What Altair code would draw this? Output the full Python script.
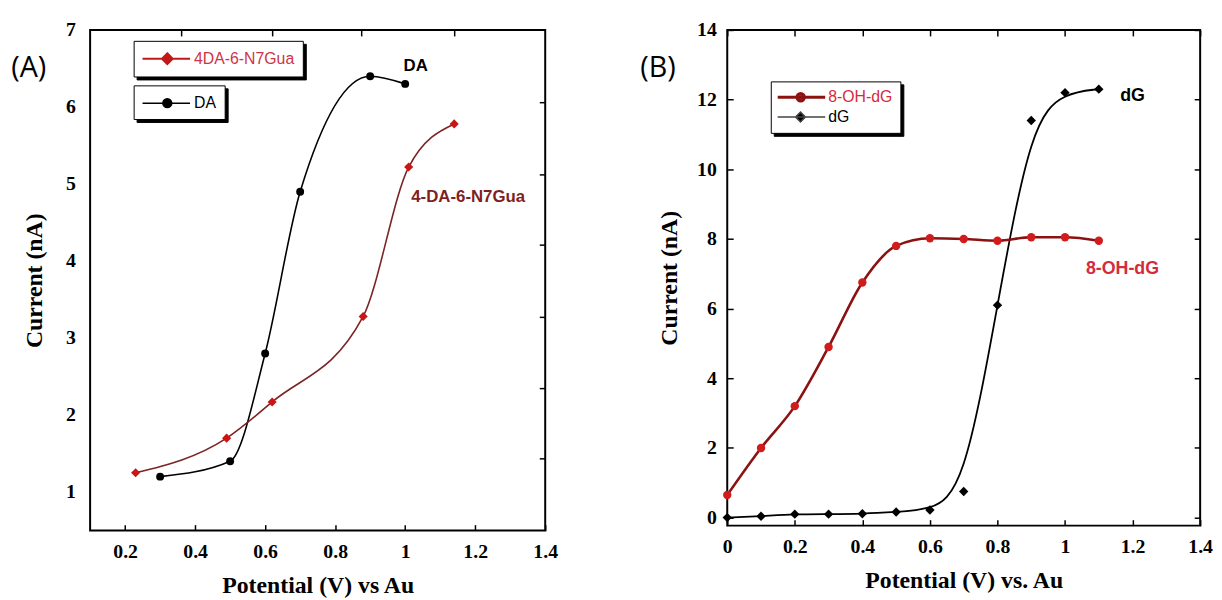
import altair as alt
import pandas as pd

# ---------------- Panel A data ----------------
da_x = [0.30, 0.50, 0.60, 0.70, 0.90, 1.00]
da_y = [1.20, 1.40, 2.80, 4.90, 6.40, 6.30]
gua_x = [0.23, 0.49, 0.62, 0.88, 1.01, 1.14]
gua_y = [1.25, 1.70, 2.17, 3.28, 5.22, 5.78]
a_xticks = [0.2, 0.4, 0.6, 0.8, 1.0, 1.2, 1.4]
a_yticks = [1, 2, 3, 4, 5, 6, 7]
a_top_ticks = [0.36, 0.62, 0.875, 1.14]
a_right_ticks = [1.44, 2.35, 3.28, 4.21, 5.12, 6.06]

# ---------------- Panel B data ----------------
b_x = [0.0, 0.1, 0.2, 0.3, 0.4, 0.5, 0.6, 0.7, 0.8, 0.9, 1.0, 1.1]
oh_y = [0.65, 2.00, 3.20, 4.90, 6.75, 7.80, 8.02, 8.00, 7.95, 8.05, 8.05, 7.95]
dg_y = [0.00, 0.04, 0.10, 0.10, 0.11, 0.16, 0.22, 0.75, 6.10, 11.40, 12.20, 12.30]
b_xticks = [0, 0.2, 0.4, 0.6, 0.8, 1.0, 1.2, 1.4]
b_yticks = [0, 2, 4, 6, 8, 10, 12, 14]

da = pd.DataFrame({"x": da_x, "y": da_y, "s": "DA"})
gua = pd.DataFrame({"x": gua_x, "y": gua_y, "s": "4DA-6-N7Gua"})
oh = pd.DataFrame({"x": b_x, "y": oh_y, "s": "8-OH-dG"})
dg = pd.DataFrame({"x": b_x, "y": dg_y, "s": "dG"})
b_all = pd.concat([oh, dg], ignore_index=True)

SERIF = "Liberation Serif"
SANS = "Liberation Sans"
# legend symbols: a 48px line with a marker (unit = 9px for symbol size 324)
A_DIAMOND = "M-1,0L4.333,0M1.78,-0.6L2.38,0L1.78,0.6L1.18,0Z"
A_CIRCLE = "M2.28,0A0.5,0.5,0,1,1,1.28,0A0.5,0.5,0,1,1,2.28,0Z M-1,0L4.333,0"
B_CIRCLE = "M-1,0L4.333,0M2.0,0A0.42,0.42,0,1,1,1.16,0A0.42,0.42,0,1,1,2.0,0Z"
B_DIAMOND = "M-1,0L4.333,0M1.56,-0.55L2.11,0L1.56,0.55L1.01,0Z"


def main_x(dom, vals, title):
    return alt.X("x:Q", scale=alt.Scale(domain=dom, nice=False, zero=False),
                 axis=alt.Axis(orient="bottom", values=vals, format="~g", ticks=False,
                               domain=False, grid=False, labelFlush=False, labelOverlap=False,
                               labelFont=SERIF, labelFontWeight="bold", labelFontSize=20,
                               labelColor="black", labelPadding=11, title=title,
                               titleFont=SERIF, titleFontSize=24, titleFontWeight="bold",
                               titleColor="black", titleY=56, titleBaseline="middle"))


def main_y(dom, vals, lpad, tx):
    return alt.Y("y:Q", scale=alt.Scale(domain=dom, nice=False, zero=False),
                 axis=alt.Axis(orient="left", values=vals, format="~g", ticks=False,
                               domain=False, grid=False, labelOverlap=False, labelFlush=False,
                               labelFont=SERIF, labelFontWeight="bold", labelFontSize=20,
                               labelColor="black", labelPadding=lpad, title="Current (nA)",
                               titleFont=SERIF, titleFontSize=24, titleFontWeight="bold",
                               titleColor="black", titleX=tx, titleBaseline="middle"))


def tick_axis(orient, vals):
    return alt.Axis(orient=orient, values=vals, labels=False, domain=False, grid=False,
                    ticks=True, tickSize=6, tickWidth=1.5, tickColor="black",
                    offset=-6, title=None)


def nx(dom):
    return alt.X("x:Q", scale=alt.Scale(domain=dom, nice=False, zero=False), axis=None)


def ny(dom):
    return alt.Y("y:Q", scale=alt.Scale(domain=dom, nice=False, zero=False), axis=None)


def legend(lx, ly, label_color, sw, shadow=False, lab_off=33):
    kw = dict(title=None, orient="none", legendX=lx + (3 if shadow else 0),
              legendY=ly + (3 if shadow else 0), padding=8, rowPadding=2, symbolSize=324,
              symbolStrokeWidth=sw, symbolOpacity=1, labelFont=SANS, labelFontSize=16,
              labelOffset=lab_off, labelLimit=300)
    if shadow:
        kw.update(fillColor="black", strokeColor="black", symbolFillColor="black",
                  symbolStrokeColor="black", labelColor="black", labelOpacity=0, zindex=1)
    else:
        kw.update(fillColor="white", strokeColor="black", labelColor=label_color, zindex=2)
    return alt.Legend(**kw)


def legend_layer(df, dom, xd, yd, fills, strokes, shapes, lx, ly, label_color, sw, lab_off):
    main = alt.Chart(df).mark_point(filled=True, opacity=0).encode(
        x=nx(xd), y=ny(yd),
        fill=alt.Fill("s:N", scale=alt.Scale(domain=dom, range=fills),
                      legend=legend(lx, ly, label_color, sw, lab_off=lab_off)),
        stroke=alt.Stroke("s:N", scale=alt.Scale(domain=dom, range=strokes),
                          legend=legend(lx, ly, label_color, sw, lab_off=lab_off)),
        shape=alt.Shape("s:N", scale=alt.Scale(domain=dom, range=shapes),
                        legend=legend(lx, ly, label_color, sw, lab_off=lab_off)))
    shadow = alt.Chart(df).mark_point(filled=True, opacity=0).encode(
        x=nx(xd), y=ny(yd),
        shape=alt.Shape("s:N", scale=alt.Scale(domain=dom, range=shapes),
                        legend=legend(lx, ly, "black", sw, shadow=True, lab_off=lab_off)))
    return main, shadow


# ---------------- Panel A ----------------
AX = [0.1, 1.4]
AY = [0.5, 7]

a_main = alt.Chart(da).mark_line(color="black", strokeWidth=1.6, interpolate="monotone").encode(
    x=main_x(AX, a_xticks, "Potential (V) vs Au"), y=main_y(AY, a_yticks, 15, -56))
a_gua_line = alt.Chart(gua).mark_line(color="#7a2424", strokeWidth=1.6, interpolate="monotone").encode(
    x=nx(AX), y=ny(AY))
a_gua_pts = alt.Chart(gua).mark_point(shape="diamond", filled=True, size=85, opacity=1,
                                      color="#cc1414").encode(x=nx(AX), y=ny(AY))
a_da_pts = alt.Chart(da).mark_point(shape="circle", filled=True, size=64, opacity=1,
                                    color="black").encode(x=nx(AX), y=ny(AY))

a_leg1, a_sh1 = legend_layer(gua, ["4DA-6-N7Gua"], AX, AY, ["#cc1414"], ["#c01818"], [A_DIAMOND],
                             44, 11, "#cf3346", 2, 33)
a_leg2, a_sh2 = legend_layer(da, ["DA"], AX, AY, ["black"], ["black"], [A_CIRCLE],
                             44, 56, "black", 1.5, 33)

a_lab1 = alt.Chart(pd.DataFrame({"x": [1.03], "y": [6.53]})).mark_text(
    text="DA", font=SANS, fontWeight="bold", fontSize=17, color="black").encode(x=nx(AX), y=ny(AY))
a_lab2 = alt.Chart(pd.DataFrame({"x": [1.18], "y": [4.83]})).mark_text(
    text="4-DA-6-N7Gua", font=SANS, fontWeight="bold", fontSize=17, color="#7f1f1f").encode(
    x=nx(AX), y=ny(AY))
a_tag = alt.Chart(pd.DataFrame({"t": ["(A)"]})).mark_text(
    text="(A)", font="Open Sans", fontSize=29, color="black").encode(
    x=alt.value(-62), y=alt.value(39))

a_ticks1 = alt.Chart(da).mark_point(opacity=0).encode(
    x=alt.X("x:Q", scale=alt.Scale(domain=AX, nice=False, zero=False), axis=tick_axis("bottom", a_xticks)),
    y=alt.Y("y:Q", scale=alt.Scale(domain=AY, nice=False, zero=False), axis=tick_axis("right", a_right_ticks)))
a_ticks2 = alt.Chart(da).mark_point(opacity=0).encode(
    x=alt.X("x:Q", scale=alt.Scale(domain=AX, nice=False, zero=False), axis=tick_axis("top", a_top_ticks)),
    y=ny(AY))

panelA = alt.layer(a_main, a_gua_line, a_gua_pts, a_da_pts, a_sh1, a_leg1, a_sh2, a_leg2,
                   a_lab1, a_lab2, a_tag, a_ticks1, a_ticks2).resolve_scale(
    fill="independent", stroke="independent", shape="independent").resolve_axis(
    x="independent", y="independent").properties(width=460, height=506)

# ---------------- Panel B ----------------
BX = [0, 1.4]
BY = [-0.23, 14]

b_main = alt.Chart(dg).mark_line(color="black", strokeWidth=1.8, interpolate="basis").encode(
    x=main_x(BX, b_xticks, "Potential (V) vs. Au"), y=main_y(BY, b_yticks, 11, -58))
b_oh_line = alt.Chart(oh).mark_line(color="#8c1212", strokeWidth=2.6, interpolate="monotone").encode(
    x=nx(BX), y=ny(BY))
b_oh_pts = alt.Chart(oh).mark_point(shape="circle", filled=True, size=72, opacity=1,
                                    color="#d01c1c").encode(x=nx(BX), y=ny(BY))
b_dg_pts = alt.Chart(dg).mark_point(shape="diamond", filled=True, size=90, opacity=1,
                                    color="black").encode(x=nx(BX), y=ny(BY))

b_leg, b_sh = legend_layer(
    b_all, ["8-OH-dG", "dG"], BX, BY, ["#d01c1c", "black"], ["#8c1212", "#444444"],
    [B_CIRCLE, B_DIAMOND], 44, 52,
    {"expr": "datum.label === 'dG' ? 'black' : '#d42b3b'"},
    {"expr": "datum.label === 'dG' ? 1.5 : 3"}, 34)

b_lab1 = alt.Chart(pd.DataFrame({"x": [1.2], "y": [12.1]})).mark_text(
    text="dG", font=SANS, fontWeight="bold", fontSize=18, color="black").encode(x=nx(BX), y=ny(BY))
b_lab2 = alt.Chart(pd.DataFrame({"x": [1.17], "y": [7.15]})).mark_text(
    text="8-OH-dG", font=SANS, fontWeight="bold", fontSize=18, color="#d42b3b").encode(x=nx(BX), y=ny(BY))
b_tag = alt.Chart(pd.DataFrame({"t": ["(B)"]})).mark_text(
    text="(B)", font="Open Sans", fontSize=29, color="black").encode(
    x=alt.value(-70), y=alt.value(39))

b_ticks1 = alt.Chart(dg).mark_point(opacity=0).encode(
    x=alt.X("x:Q", scale=alt.Scale(domain=BX, nice=False, zero=False), axis=tick_axis("bottom", b_xticks)),
    y=alt.Y("y:Q", scale=alt.Scale(domain=BY, nice=False, zero=False), axis=tick_axis("left", b_yticks)))
b_ticks2 = alt.Chart(dg).mark_point(opacity=0).encode(
    x=alt.X("x:Q", scale=alt.Scale(domain=BX, nice=False, zero=False), axis=tick_axis("top", b_xticks)),
    y=alt.Y("y:Q", scale=alt.Scale(domain=BY, nice=False, zero=False), axis=tick_axis("right", b_yticks)))

panelB = alt.layer(b_main, b_oh_line, b_oh_pts, b_dg_pts, b_sh, b_leg, b_lab1, b_lab2, b_tag,
                   b_ticks1, b_ticks2).resolve_scale(
    fill="independent", stroke="independent", shape="independent").resolve_axis(
    x="independent", y="independent").properties(width=478, height=501)

chart = alt.hconcat(panelA, panelB, spacing=81).resolve_scale(
    fill="independent", stroke="independent", shape="independent"
).properties(
    padding={"left": 2, "top": 8, "right": 0, "bottom": 0}, background="white"
).configure_view(stroke="black", strokeWidth=2)

chart.save("out.html", embed_options={"renderer": "svg", "actions": False})
